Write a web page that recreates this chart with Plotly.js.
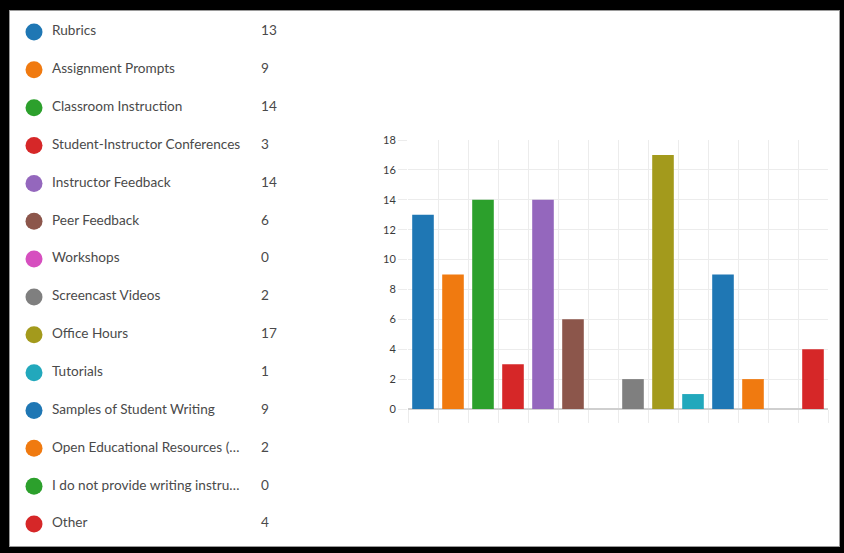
<!DOCTYPE html>
<html>
<head>
<meta charset="utf-8">
<script src="https://cdn.plot.ly/plotly-3.0.1.min.js"></script>
<style>
  html, body { margin: 0; padding: 0; background: #000; width: 844px; height: 553px; overflow: hidden; }
  #frame { position: absolute; left: 9px; top: 10px; width: 831px; height: 537px; box-sizing: border-box; border: 1px solid #9a9a9a; background: #fff; }
  #chart { position: absolute; left: 0; top: 0; width: 844px; height: 553px; }
</style>
</head>
<body>
<div id="frame"></div>
<div id="chart"></div>
<script>
const categories = [
  "Rubrics",
  "Assignment Prompts",
  "Classroom Instruction",
  "Student-Instructor Conferences",
  "Instructor Feedback",
  "Peer Feedback",
  "Workshops",
  "Screencast Videos",
  "Office Hours",
  "Tutorials",
  "Samples of Student Writing",
  "Open Educational Resources (…",
  "I do not provide writing instru…",
  "Other"
];
const counts = [13, 9, 14, 3, 14, 6, 0, 2, 17, 1, 9, 2, 0, 4];
const colors = ["#1f77b4", "#f07a10", "#2ca02c", "#d62728", "#9467bd", "#8c564b",
                "#d64fbf", "#7f7f7f", "#a39a1c", "#22a8bc", "#1f77b4", "#f07a10",
                "#2ca02c", "#d62728"];
const yTicks = [0, 2, 4, 6, 8, 10, 12, 14, 16, 18];

const rowIdx = categories.map((_, i) => i);

const W = 844, H = 553;
const FONT = "Lato, 'Open Sans', sans-serif";
const traces = [
  {
    type: "bar",
    x: categories,
    y: counts,
    marker: { color: colors, line: { width: 0 } },
    xaxis: "x", yaxis: "y",
    hoverinfo: "x+y",
    showlegend: false
  },
  {
    type: "scatter", mode: "markers",
    x: rowIdx.map(() => 34), y: rowIdx,
    marker: { size: 17, color: colors, line: { width: 0 } },
    xaxis: "x2", yaxis: "y2", showlegend: false, hoverinfo: "skip"
  },
  {
    type: "scatter", mode: "text",
    x: rowIdx.map(() => 52), y: rowIdx,
    text: categories, textposition: "middle right",
    textfont: { family: FONT, size: 13.6, color: "#4a4a4a" },
    xaxis: "x2", yaxis: "y2", showlegend: false, hoverinfo: "skip"
  },
  {
    type: "scatter", mode: "text",
    x: rowIdx.map(() => 261), y: rowIdx,
    text: counts.map(String), textposition: "middle right",
    textfont: { family: FONT, size: 13.6, color: "#4a4a4a" },
    xaxis: "x2", yaxis: "y2", showlegend: false, hoverinfo: "skip"
  }
];

const rowTop = 32, rowStep = 37.85;
const layout = {
  width: W, height: H,
  margin: { l: 0, r: 0, t: 0, b: 0, pad: 0 },
  paper_bgcolor: "rgba(0,0,0,0)",
  plot_bgcolor: "rgba(0,0,0,0)",
  bargap: 0.28,
  font: { family: FONT, color: "#555" },
  xaxis: {
    domain: [408 / W, 828 / W],
    type: "category",
    categoryorder: "array", categoryarray: categories,
    showticklabels: false,
    tickson: "boundaries",
    ticks: "outside", ticklen: 13, tickcolor: "#ececec", tickwidth: 1,
    showgrid: true, gridcolor: "#ececec", gridwidth: 1,
    showline: false, zeroline: false,
    fixedrange: true
  },
  yaxis: {
    domain: [(H - 409) / H, (H - 140) / H],
    range: [0, 18],
    tickvals: yTicks,
    ticks: "outside", ticklen: 9, tickcolor: "#ececec",
    showgrid: true, gridcolor: "#ececec", gridwidth: 1,
    zeroline: true, zerolinecolor: "#cfcfcf", zerolinewidth: 2,
    showline: false,
    tickfont: { family: FONT, size: 11, color: "#3a3a3a" },
    fixedrange: true
  },
  xaxis2: {
    domain: [0, 300 / W], range: [0, 300], anchor: "y2",
    visible: false, fixedrange: true
  },
  yaxis2: {
    domain: [0, 1],
    range: [(H - rowTop) / rowStep, -rowTop / rowStep],
    anchor: "x2", visible: false, fixedrange: true
  }
};

Plotly.newPlot("chart", traces, layout, { displayModeBar: false, staticPlot: true });
</script>
</body>
</html>
